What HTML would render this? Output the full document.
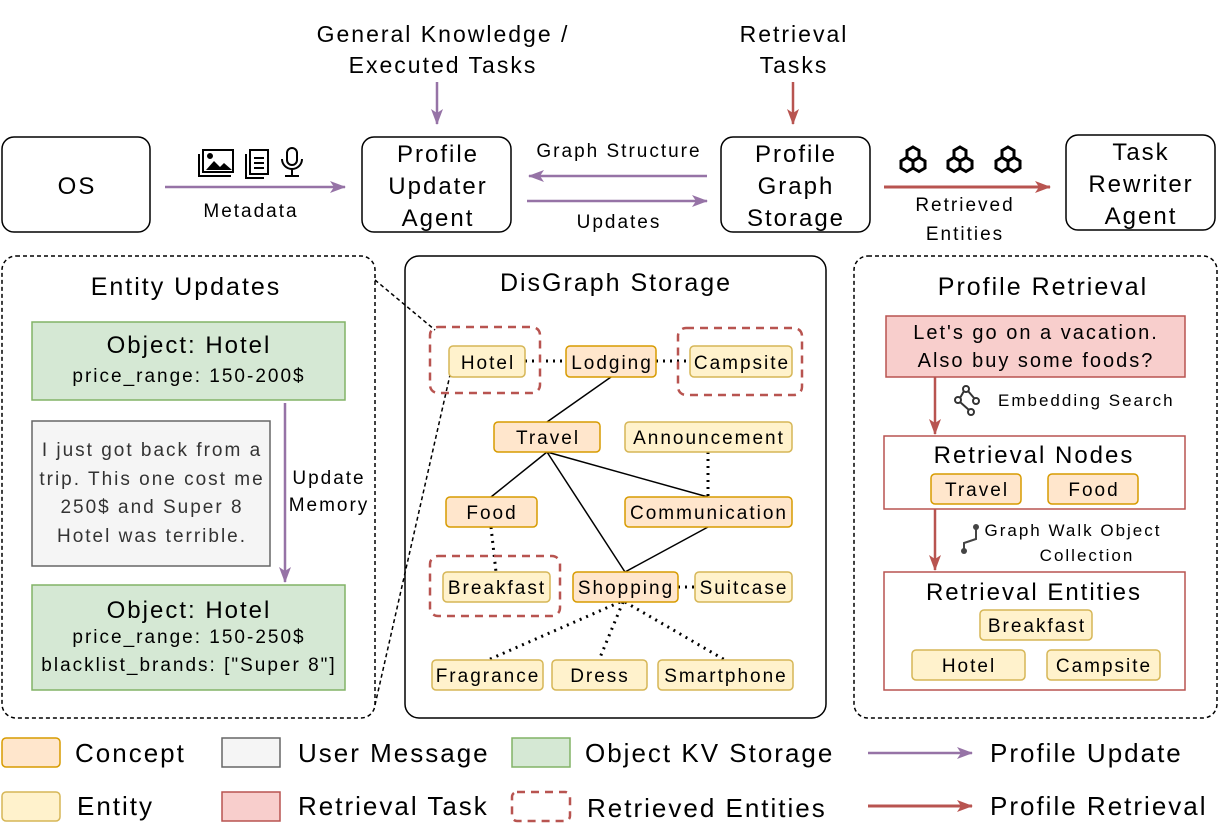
<!DOCTYPE html>
<html><head><meta charset="utf-8"><style>
html,body{margin:0;padding:0;background:#fff;}
svg{display:block;font-family:"Liberation Sans",sans-serif;}
text{letter-spacing:2px;}
</style></head><body>
<svg width="1219" height="833" viewBox="0 0 1219 833" xmlns="http://www.w3.org/2000/svg">
<defs>
<marker id="apu" viewBox="0 0 16 12" markerWidth="16" markerHeight="12" refX="15" refY="6" orient="auto" markerUnits="userSpaceOnUse"><path d="M0,0 L16,6 L0,12 L4,6 Z" fill="#9673a6"/></marker>
<marker id="aru" viewBox="0 0 16 12" markerWidth="16" markerHeight="12" refX="15" refY="6" orient="auto" markerUnits="userSpaceOnUse"><path d="M0,0 L16,6 L0,12 L4,6 Z" fill="#b85450"/></marker>
</defs>

<g font-size="23" text-anchor="middle" fill="#000">
<text x="443" y="42">General Knowledge /</text>
<text x="443" y="73">Executed Tasks</text>
<text x="794" y="42">Retrieval</text>
<text x="794" y="73">Tasks</text>
</g>
<line x1="437" y1="82" x2="437" y2="124" stroke="#9673a6" stroke-width="2.5" marker-end="url(#apu)"/>
<line x1="793" y1="82" x2="793" y2="124" stroke="#b85450" stroke-width="2.5" marker-end="url(#aru)"/>

<g fill="#fff" stroke="#000" stroke-width="1.5">
<rect x="2" y="137" width="148" height="95" rx="12"/>
<rect x="362" y="137" width="149" height="95" rx="12"/>
<rect x="721" y="137" width="149" height="95" rx="12"/>
<rect x="1066" y="135" width="149" height="95" rx="12"/>
</g>
<g font-size="24" text-anchor="middle">
<text x="77" y="194">OS</text>
<text x="438" y="162">Profile</text><text x="438" y="194">Updater</text><text x="438" y="226">Agent</text>
<text x="796" y="162">Profile</text><text x="796" y="194">Graph</text><text x="796" y="226">Storage</text>
<text x="1141" y="160">Task</text><text x="1141" y="192">Rewriter</text><text x="1141" y="224">Agent</text>
</g>

<line x1="165" y1="187" x2="345" y2="187" stroke="#9673a6" stroke-width="2.5" marker-end="url(#apu)"/>
<text x="251" y="217" font-size="19" text-anchor="middle">Metadata</text>
<g stroke="#000" stroke-width="2" fill="none">
<rect x="203" y="150" width="30" height="22"/><path d="M199,154 v22 h32" />
<path d="M206,170 l8,-9 l6,6 l4,-4 l8,7" fill="#000" stroke="none"/>
<circle cx="210" cy="156" r="2" fill="#000"/>
<rect x="250" y="150" width="18" height="24"/><path d="M246,154 v24 h18"/>
<line x1="254" y1="158" x2="264" y2="158"/><line x1="254" y1="163" x2="264" y2="163"/><line x1="254" y1="168" x2="264" y2="168"/>
<rect x="287" y="148" width="10" height="17" rx="5"/>
<path d="M282,159 a10,10 0 0 0 20,0"/><line x1="292" y1="169" x2="292" y2="176"/><line x1="285" y1="176" x2="299" y2="176"/>
</g>

<line x1="707" y1="176" x2="529" y2="176" stroke="#9673a6" stroke-width="2.5" marker-end="url(#apu)"/>
<line x1="527" y1="201" x2="707" y2="201" stroke="#9673a6" stroke-width="2.5" marker-end="url(#apu)"/>
<text x="619" y="157" font-size="19" text-anchor="middle">Graph Structure</text>
<text x="619" y="228" font-size="19" text-anchor="middle">Updates</text>

<line x1="884" y1="187" x2="1050" y2="187" stroke="#b85450" stroke-width="3" marker-end="url(#aru)"/>
<text x="965" y="211" font-size="19" text-anchor="middle">Retrieved</text>
<text x="965" y="240" font-size="19" text-anchor="middle">Entities</text>
<g stroke="#000" stroke-width="3" fill="none">
<g id="hx">
<path d="M913,147 l6,3.5 v7 l-6,3.5 l-6,-3.5 v-7 z"/>
<path d="M907,157.5 l6,3.5 v7 l-6,3.5 l-6,-3.5 v-7 z"/>
<path d="M919,157.5 l6,3.5 v7 l-6,3.5 l-6,-3.5 v-7 z"/>
</g>
<use href="#hx" x="47"/><use href="#hx" x="95"/>
</g>

<rect x="2" y="256" width="373" height="462" rx="14" fill="none" stroke="#000" stroke-width="1.5" stroke-dasharray="4,3"/>
<rect x="405" y="256" width="421" height="462" rx="14" fill="none" stroke="#000" stroke-width="1.5"/>
<rect x="854" y="256" width="363" height="462" rx="14" fill="none" stroke="#000" stroke-width="1.5" stroke-dasharray="4,3"/>
<g font-size="25" text-anchor="middle">
<text x="186" y="295">Entity Updates</text>
<text x="616" y="291">DisGraph Storage</text>
<text x="1043" y="295">Profile Retrieval</text>
</g>

<rect x="32" y="322" width="313" height="78" fill="#d5e8d4" stroke="#82b366" stroke-width="1.5"/>
<text x="189" y="353" font-size="24" text-anchor="middle">Object: Hotel</text>
<text x="189" y="382" font-size="19" text-anchor="middle">price_range: 150-200$</text>
<rect x="32" y="421" width="238" height="145" fill="#f5f5f5" stroke="#666" stroke-width="1.5"/>
<g font-size="19" text-anchor="middle" fill="#333">
<text x="152" y="456">I just got back from a</text>
<text x="152" y="485">trip. This one cost me</text>
<text x="152" y="513">250$ and Super 8</text>
<text x="152" y="542">Hotel was terrible.</text>
</g>
<line x1="285" y1="403" x2="285" y2="582" stroke="#9673a6" stroke-width="2.5" marker-end="url(#apu)"/>
<text x="329" y="484" font-size="19" text-anchor="middle">Update</text>
<text x="329" y="511" font-size="19" text-anchor="middle">Memory</text>
<rect x="32" y="585" width="313" height="105" fill="#d5e8d4" stroke="#82b366" stroke-width="1.5"/>
<text x="189" y="618" font-size="24" text-anchor="middle">Object: Hotel</text>
<text x="189" y="643" font-size="19" text-anchor="middle">price_range: 150-250$</text>
<text x="189" y="671" font-size="19" text-anchor="middle">blacklist_brands: ["Super 8"]</text>
<line x1="375" y1="280" x2="435" y2="330" stroke="#000" stroke-width="1.5" stroke-dasharray="4,3"/>
<line x1="375" y1="705" x2="450" y2="375" stroke="#000" stroke-width="1.5" stroke-dasharray="4,3"/>

<g stroke="#000" stroke-width="1.5">
<line x1="611" y1="377" x2="547" y2="422"/>
<line x1="547" y1="452" x2="491" y2="497"/>
<line x1="547" y1="452" x2="708" y2="497"/>
<line x1="547" y1="452" x2="625" y2="572"/>
<line x1="708" y1="527" x2="625" y2="572"/>
</g>
<g stroke="#000" stroke-width="3" stroke-dasharray="2,5">
<line x1="525" y1="361" x2="566" y2="361"/>
<line x1="656" y1="361" x2="690" y2="361"/>
<line x1="708" y1="452" x2="708" y2="497"/>
<line x1="491" y1="527" x2="496" y2="572"/>
<line x1="678" y1="587" x2="695" y2="587"/>
<line x1="620" y1="602" x2="488" y2="660"/>
<line x1="623" y1="602" x2="599" y2="660"/>
<line x1="625" y1="602" x2="725" y2="660"/>
</g>
<g fill="none" stroke="#b85450" stroke-width="2.5" stroke-dasharray="8,6">
<rect x="430" y="327" width="110" height="66" rx="8"/>
<rect x="678" y="328" width="124" height="67" rx="8"/>
<rect x="430" y="556" width="130" height="60" rx="8"/>
</g>
<g stroke-width="1.5">
<rect x="449" y="346" width="76" height="31" rx="4" fill="#fff2cc" stroke="#d6b656"/>
<rect x="566" y="346" width="90" height="31" rx="4" fill="#ffe6cc" stroke="#d79b00"/>
<rect x="690" y="346" width="102" height="31" rx="4" fill="#fff2cc" stroke="#d6b656"/>
<rect x="494" y="422" width="106" height="30" rx="4" fill="#ffe6cc" stroke="#d79b00"/>
<rect x="625" y="422" width="167" height="30" rx="4" fill="#fff2cc" stroke="#d6b656"/>
<rect x="446" y="497" width="91" height="30" rx="4" fill="#ffe6cc" stroke="#d79b00"/>
<rect x="625" y="497" width="167" height="30" rx="4" fill="#ffe6cc" stroke="#d79b00"/>
<rect x="443" y="572" width="107" height="30" rx="4" fill="#fff2cc" stroke="#d6b656"/>
<rect x="573" y="572" width="105" height="30" rx="4" fill="#ffe6cc" stroke="#d79b00"/>
<rect x="695" y="572" width="97" height="30" rx="4" fill="#fff2cc" stroke="#d6b656"/>
<rect x="432" y="660" width="111" height="30" rx="4" fill="#fff2cc" stroke="#d6b656"/>
<rect x="552" y="660" width="95" height="30" rx="4" fill="#fff2cc" stroke="#d6b656"/>
<rect x="658" y="660" width="135" height="30" rx="4" fill="#fff2cc" stroke="#d6b656"/>
</g>
<g font-size="19" text-anchor="middle" style="letter-spacing:1.6px">
<text x="488" y="369">Hotel</text>
<text x="612" y="369">Lodging</text>
<text x="742" y="369">Campsite</text>
<text x="548" y="444">Travel</text>
<text x="709" y="444">Announcement</text>
<text x="492" y="519">Food</text>
<text x="709" y="519">Communication</text>
<text x="497" y="594">Breakfast</text>
<text x="626" y="594">Shopping</text>
<text x="744" y="594">Suitcase</text>
<text x="488" y="682">Fragrance</text>
<text x="600" y="682">Dress</text>
<text x="726" y="682">Smartphone</text>
</g>

<rect x="886" y="316" width="299" height="61" fill="#f8cecc" stroke="#b85450" stroke-width="1.5"/>
<text x="1036" y="339" font-size="20" text-anchor="middle">Let's go on a vacation.</text>
<text x="1036" y="367" font-size="20" text-anchor="middle">Also buy some foods?</text>
<line x1="935" y1="377" x2="935" y2="434" stroke="#b85450" stroke-width="2.5" marker-end="url(#aru)"/>
<g stroke="#333" stroke-width="2" fill="none">
<circle cx="966" cy="389" r="3"/><circle cx="958" cy="400" r="3"/><circle cx="976" cy="401" r="3"/><circle cx="971" cy="412" r="3"/>
<line x1="960" y1="398" x2="964" y2="391"/><line x1="968" y1="391" x2="974" y2="398"/><line x1="960" y1="402" x2="969" y2="410"/>
</g>
<text x="998" y="406" font-size="17">Embedding Search</text>
<rect x="884" y="436" width="301" height="73" fill="#fff" stroke="#b85450" stroke-width="1.5"/>
<text x="1034" y="463" font-size="24" text-anchor="middle">Retrieval Nodes</text>
<rect x="931" y="474" width="90" height="30" rx="4" fill="#ffe6cc" stroke="#d79b00" stroke-width="1.5"/>
<rect x="1048" y="474" width="90" height="30" rx="4" fill="#ffe6cc" stroke="#d79b00" stroke-width="1.5"/>
<text x="977" y="496" font-size="19" text-anchor="middle">Travel</text>
<text x="1094" y="496" font-size="19" text-anchor="middle">Food</text>
<line x1="935" y1="509" x2="935" y2="570" stroke="#b85450" stroke-width="2.5" marker-end="url(#aru)"/>
<path d="M976,527 v12 l-12,4 v8" stroke="#444" stroke-width="2" fill="none"/>
<circle cx="976" cy="527" r="3" fill="#444"/><circle cx="964" cy="551" r="3" fill="#444"/>
<text x="1073" y="536" font-size="17" text-anchor="middle">Graph Walk Object</text>
<text x="1087" y="561" font-size="17" text-anchor="middle">Collection</text>
<rect x="884" y="572" width="301" height="118" fill="#fff" stroke="#b85450" stroke-width="1.5"/>
<text x="1034" y="600" font-size="24" text-anchor="middle">Retrieval Entities</text>
<rect x="980" y="610" width="112" height="30" rx="4" fill="#fff2cc" stroke="#d6b656" stroke-width="1.5"/>
<rect x="912" y="650" width="113" height="30" rx="4" fill="#fff2cc" stroke="#d6b656" stroke-width="1.5"/>
<rect x="1047" y="650" width="113" height="30" rx="4" fill="#fff2cc" stroke="#d6b656" stroke-width="1.5"/>
<text x="1037" y="632" font-size="19" text-anchor="middle">Breakfast</text>
<text x="969" y="672" font-size="19" text-anchor="middle">Hotel</text>
<text x="1104" y="672" font-size="19" text-anchor="middle">Campsite</text>

<g stroke-width="1.5">
<rect x="2" y="738" width="58" height="29" rx="4" fill="#ffe6cc" stroke="#d79b00"/>
<rect x="2" y="792" width="58" height="29" rx="4" fill="#fff2cc" stroke="#d6b656"/>
<rect x="222" y="738" width="58" height="29" fill="#f5f5f5" stroke="#666"/>
<rect x="222" y="792" width="58" height="29" fill="#f8cecc" stroke="#b85450"/>
<rect x="512" y="738" width="58" height="29" fill="#d5e8d4" stroke="#82b366"/>
</g>
<rect x="512" y="792" width="58" height="29" rx="5" fill="none" stroke="#b85450" stroke-width="2.5" stroke-dasharray="8,6"/>
<line x1="868" y1="753" x2="972" y2="753" stroke="#9673a6" stroke-width="2.5" marker-end="url(#apu)"/>
<line x1="868" y1="806" x2="972" y2="806" stroke="#b85450" stroke-width="3" marker-end="url(#aru)"/>
<g font-size="26">
<text x="75" y="762">Concept</text>
<text x="77" y="815">Entity</text>
<text x="298" y="762">User Message</text>
<text x="298" y="815">Retrieval Task</text>
<text x="585" y="762">Object KV Storage</text>
<text x="587" y="817">Retrieved Entities</text>
<text x="990" y="762">Profile Update</text>
<text x="990" y="815">Profile Retrieval</text>
</g>
</svg>
</body></html>
